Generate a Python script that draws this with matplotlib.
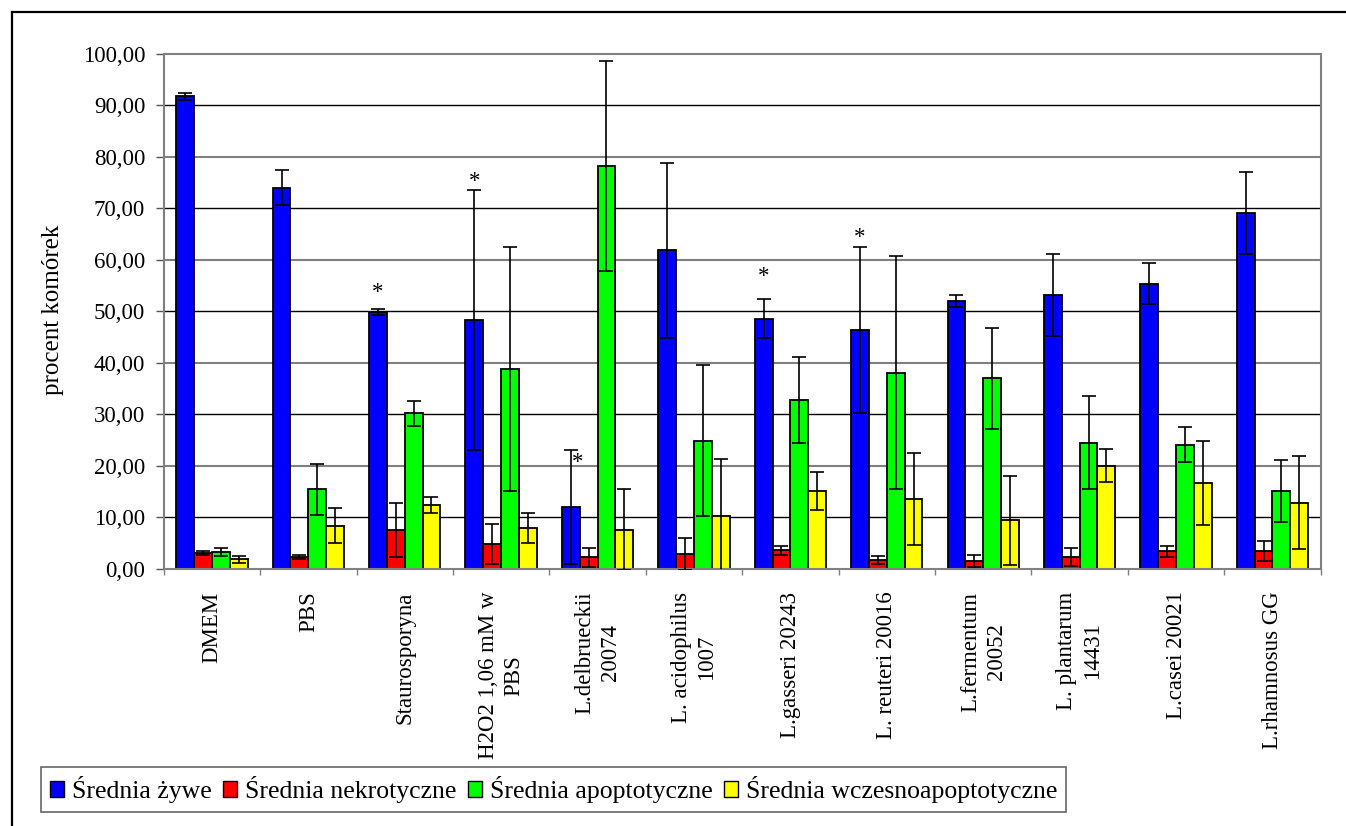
import numpy as np
import matplotlib
matplotlib.use("Agg")
import matplotlib.pyplot as plt
from matplotlib.patches import Patch
from matplotlib.lines import Line2D

plt.rcParams['font.family'] = ['Liberation Serif', 'DejaVu Serif']

# dane: srednie i odchylenia dla kazdej proby
kategorie = ['DMEM', 'PBS', 'Staurosporyna', 'H2O2 1,06 mM w\nPBS',
             'L.delbrueckii\n20074', 'L. acidophilus\n1007', 'L.gasseri 20243',
             'L. reuteri 20016', 'L.fermentum\n20052', 'L. plantarum\n14431',
             'L.casei 20021', 'L.rhamnosus GG']

zywe = [91.8, 74.0, 49.8, 48.3, 12.0, 61.9, 48.6, 46.4, 52.0, 53.1, 55.4, 69.1]
zywe_sd = [0.7, 3.4, 0.6, 25.3, 11.0, 17.0, 3.8, 16.1, 1.2, 7.95, 4.0, 8.0]
nekro = [3.0, 2.2, 7.5, 4.8, 2.2, 2.9, 3.6, 1.7, 1.5, 2.3, 3.4, 3.4]
nekro_sd = [0.4, 0.4, 5.2, 3.9, 1.8, 3.1, 0.9, 0.8, 1.1, 1.8, 1.1, 1.9]
apo = [3.3, 15.4, 30.2, 38.8, 78.2, 24.9, 32.8, 38.1, 37.0, 24.5, 24.1, 15.1]
apo_sd = [0.8, 5.0, 2.4, 23.7, 20.4, 14.7, 8.3, 22.6, 9.8, 9.0, 3.4, 6.1]
wczesno = [1.8, 8.3, 12.4, 7.9, 7.6, 10.2, 15.1, 13.5, 9.4, 20.0, 16.6, 12.8]
wczesno_sd = [0.7, 3.4, 1.6, 3.0, 7.8, 11.2, 3.75, 8.9, 8.6, 3.2, 8.2, 9.0]

serie = ['Średnia żywe', 'Średnia nekrotyczne', 'Średnia apoptotyczne',
         'Średnia wczesnoapoptotyczne']
kolory = ['#0000FF', '#FF0000', '#00FF00', '#FFFF00']

# gwiazdki istotnosci: (kategoria, seria, odstep nad wasem, przesuniecie w bok)
gwiazdki = [(2, 0, 4.3, 0.0), (3, 0, 2.7, 0.0), (4, 0, -1.4, 0.066),
            (4, 2, 3.4, 0.1), (6, 0, 5.5, 0.0), (7, 0, 2.8, 0.0)]

srednie = [zywe, nekro, apo, wczesno]
odchylenia = [zywe_sd, nekro_sd, apo_sd, wczesno_sd]

W, H = 1346, 826
fig = plt.figure(figsize=(W / 100, H / 100), dpi=100)
fig.patch.set_facecolor('white')

# ramka wokol wykresu
fig.add_artist(Line2D([12 / W, 1.0], [1 - 12 / H, 1 - 12 / H], color='black', lw=1.6))
fig.add_artist(Line2D([12 / W, 12 / W], [0.0, 1 - 12 / H], color='black', lw=1.6))

ax = fig.add_axes([163.7 / W, 1 - 568.7 / H, 1157 / W, 514.7 / H])

x = np.arange(len(kategorie))
szer = 0.185
for j in range(4):
    pos = x + (j - 1.5) * szer
    ax.bar(pos, srednie[j], szer, color=kolory[j], edgecolor='black', lw=1.3, zorder=2)
    ax.errorbar(pos, srednie[j], yerr=odchylenia[j], fmt='none', ecolor='black',
                elinewidth=1.2, capsize=4.7, capthick=1.2, zorder=4)

for k, s, dy, dx in gwiazdki:
    xs = x[k] + (s - 1.5) * szer + dx
    ys = srednie[s][k] + odchylenia[s][k] + dy
    ax.annotate('*', xy=(xs, ys), xytext=(0, -7.8), textcoords='offset points',
                ha='center', va='baseline', fontsize=16.5, clip_on=False, zorder=5)

# linie siatki
for v in range(10, 100, 10):
    if v % 20 == 0:
        ax.axhline(v, color='#808080', lw=1.5, zorder=0)
    else:
        ax.axhline(v, color='black', lw=1.0, zorder=0)

ax.set_xlim(-0.5, len(kategorie) - 0.5)
ax.set_ylim(0, 100)
ax.set_yticks(np.arange(0, 101, 10))
ax.set_yticklabels([f'{v:.2f}'.replace('.', ',') for v in np.arange(0, 101, 10)], fontsize=16.5)
ax.tick_params(axis='y', length=5.8, width=1, color='#555555', pad=7.5)

ax.set_xticks(x)
ax.set_xticklabels(kategorie, rotation=90, ha='center', va='top', fontsize=16.5,
                   multialignment='center', linespacing=1.3)
ax.set_xticks(np.arange(len(kategorie) + 1) - 0.5, minor=True)
ax.tick_params(axis='x', which='major', length=0, pad=16.5)
ax.tick_params(axis='x', which='minor', length=4.3, width=1, color='#808080')

for sp in ax.spines.values():
    sp.set_color('#808080')
    sp.set_linewidth(1.5)

ax.set_ylabel('procent komórek', fontsize=18)
ax.yaxis.set_label_coords((64 - 163.7) / 1157, 0.503)

uchwyty = [Patch(facecolor=c, edgecolor='black', lw=1) for c in kolory]
leg = fig.legend(uchwyty, serie, loc='upper left', bbox_to_anchor=(41 / W, 1 - 767 / H),
                 ncol=4, prop={'family': ['Liberation Serif'], 'size': 18.5},
                 frameon=True, fancybox=False, edgecolor='#404040',
                 borderaxespad=0, handlelength=0.55, handleheight=0.55,
                 handletextpad=0.3, columnspacing=0.45, borderpad=0.35)
leg.get_frame().set_linewidth(1.2)

fig.savefig('out.png', dpi=100)
